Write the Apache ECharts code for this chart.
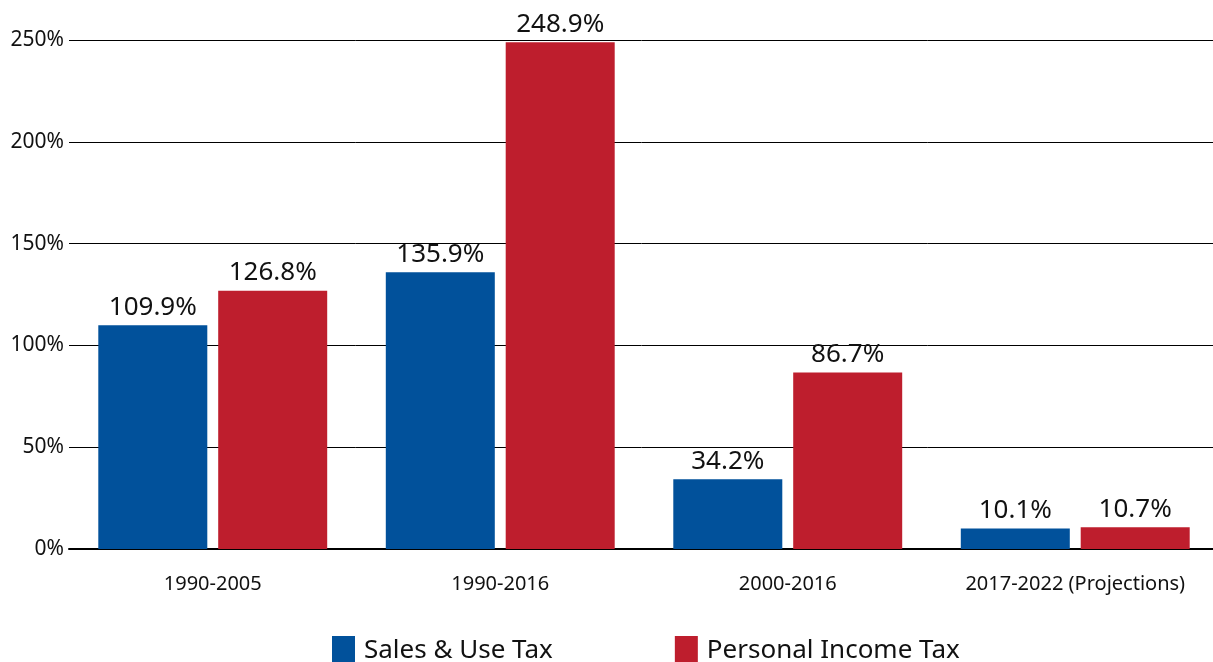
<!DOCTYPE html>
<html>
<head>
<meta charset="utf-8">
<script src="https://cdn.jsdelivr.net/npm/echarts@6/dist/echarts.min.js"></script>
<style>
  html, body { margin: 0; padding: 0; background: #fff; }
  #chart { width: 1213px; height: 662px; }
</style>
</head>
<body>
<div id="chart"></div>
<script>
// data
const categories = ['1990-2005', '1990-2016', '2000-2016', '2017-2022 (Projections)']
const salesUseTax = [109.9, 135.9, 34.2, 10.1]
const personalIncomeTax = [126.8, 248.9, 86.7, 10.7]
const yTicks = [0, 50, 100, 150, 200, 250]

const chart = echarts.init(document.getElementById('chart'))
const font = 'Noto Sans'

const labelStyle = {
  show: true,
  position: 'top',
  distance: 5,
  color: '#111',
  fontSize: 26,
  fontFamily: font,
  formatter: p => p.value.toFixed(1) + '%'
}

const option = {
  animation: false,
  // plot runs a little past the right edge, like the original
  grid: { left: 69, width: 1150, top: 40, bottom: 113, outerBoundsMode: 'none' },
  legend: {
    top: 631,
    left: 327,
    itemWidth: 23,
    itemHeight: 30,
    itemGap: 122,
    icon: 'rect',
    textStyle: { fontSize: 26, fontFamily: font, color: '#111', padding: [0, 0, 0, 4] },
    data: ['Sales & Use Tax', 'Personal Income Tax']
  },
  xAxis: {
    type: 'category',
    data: categories,
    axisLine: { lineStyle: { color: '#000', width: 2 } },
    axisTick: { show: false },
    axisLabel: { color: '#111', fontSize: 20, fontFamily: font, margin: 25 }
  },
  yAxis: {
    type: 'value',
    min: yTicks[0],
    max: yTicks[yTicks.length - 1],
    interval: 50,
    axisLine: { show: false },
    axisTick: { show: false },
    splitLine: { lineStyle: { color: '#000', width: 1 } },
    axisLabel: { color: '#111', fontSize: 21, fontFamily: font, margin: 5, formatter: '{value}%' }
  },
  series: [
    {
      name: 'Sales & Use Tax',
      type: 'bar',
      data: salesUseTax,
      barWidth: 109,
      barGap: '10%',
      itemStyle: { color: '#01519b' },
      label: labelStyle
    },
    {
      name: 'Personal Income Tax',
      type: 'bar',
      data: personalIncomeTax,
      barWidth: 109,
      barGap: '10%',
      itemStyle: { color: '#be1e2d' },
      label: labelStyle
    }
  ]
}
chart.setOption(option)
</script>
</body>
</html>
